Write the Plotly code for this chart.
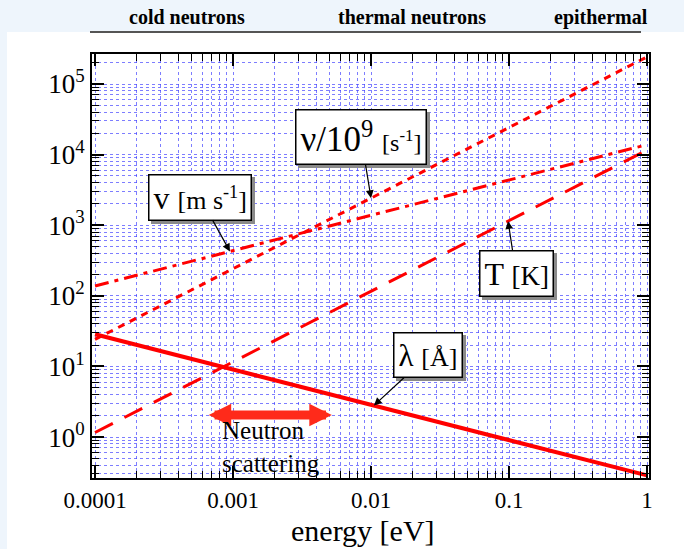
import plotly.graph_objects as go
import math

# ---------------- data ----------------
energy_eV = [0.0001, 1.0]
wavelength_A = [28.6, 0.286]          # lambda [Å]
velocity_ms = [138.0, 13830.0]        # v [m s^-1]
frequency_GHz = [24.2, 241800.0]      # nu/10^9 [s^-1]
temperature_K = [1.16, 11600.0]       # T [K]

x_tickvals = [0.0001, 0.001, 0.01, 0.1, 1]
x_ticktext = ["0.0001", "0.001", "0.01", "0.1", "1"]
y_tickvals = [1, 10, 100, 1000, 10000, 100000]
y_ticktext = ["10<sup>0</sup>", "10<sup>1</sup>", "10<sup>2</sup>",
              "10<sup>3</sup>", "10<sup>4</sup>", "10<sup>5</sup>"]
region_labels = ["cold neutrons", "thermal neutrons", "epithermal"]

SERIF = "Liberation Serif"
RED = "#ff0000"
GRID = "rgba(70,70,255,0.7)"

fig = go.Figure()
fig.add_trace(go.Scatter(x=energy_eV, y=wavelength_A, mode="lines",
                         line=dict(color=RED, width=4), name="lambda"))
fig.add_trace(go.Scatter(x=energy_eV, y=velocity_ms, mode="lines",
                         line=dict(color=RED, width=3, dash="14px,6px,4px,6px"), name="v"))
fig.add_trace(go.Scatter(x=energy_eV, y=frequency_GHz, mode="lines",
                         line=dict(color=RED, width=3, dash="7px,6px"), name="nu"))
fig.add_trace(go.Scatter(x=energy_eV, y=temperature_K, mode="lines",
                         line=dict(color=RED, width=3, dash="20px,13px"), name="T"))

def minor_vals(lo, hi):
    out = []
    for d in range(lo, hi + 1):
        for k in range(2, 10):
            out.append(k * 10.0 ** d)
    return out

axis_common = dict(type="log", showline=True, linecolor="black", linewidth=2,
                   mirror="ticks", ticks="inside", ticklen=12, tickwidth=1.5,
                   tickcolor="black", showgrid=True, gridcolor=GRID, griddash="dot",
                   gridwidth=1, zeroline=False)

fig.update_xaxes(**axis_common, range=[-4.022, 0.0145],
                 tickmode="array", tickvals=x_tickvals, ticktext=x_ticktext,
                 tickfont=dict(family=SERIF, size=23, color="black"),
                 minor=dict(tickmode="array", tickvals=minor_vals(-4, 0), ticks="inside",
                            ticklen=7, tickcolor="black", tickwidth=1.2,
                            showgrid=True, gridcolor=GRID, griddash="dot", gridwidth=1))
fig.update_yaxes(**axis_common, range=[-0.58, 5.425],
                 tickmode="array", tickvals=y_tickvals, ticktext=y_ticktext,
                 tickfont=dict(family=SERIF, size=27, color="black"),
                 minor=dict(tickmode="array", tickvals=minor_vals(-1, 5), ticks="inside",
                            ticklen=7, tickcolor="black", tickwidth=1.2,
                            showgrid=True, gridcolor=GRID, griddash="dot", gridwidth=1))

annotations = []

def boxed(text, xe, ye, ax, ay, size):
    common = dict(x=math.log10(xe), y=math.log10(ye), xref="x", yref="y",
                  ax=ax, ay=ay, text=text, showarrow=True,
                  borderpad=4, borderwidth=1.5)
    annotations.append(dict(**common, bgcolor="#8a8a8a", bordercolor="#8a8a8a",
                            arrowcolor="rgba(0,0,0,0)", xshift=3, yshift=-3,
                            font=dict(family=SERIF, size=size, color="#8a8a8a")))
    annotations.append(dict(**common, bgcolor="white", bordercolor="black",
                            arrowcolor="black", arrowhead=2, arrowsize=1.3,
                            arrowwidth=1.2, standoff=0,
                            font=dict(family=SERIF, size=size, color="black")))

boxed("ν/10<sup>9</sup> <span style='font-size:24px'>[s<sup>-1</sup>]</span>",
      0.01, 2418, -10, -61, 35)
boxed("v <span style='font-size:26px'>[m s<sup>-1</sup>]</span>",
      0.00095, 426, -30, -54, 32)
boxed("T <span style='font-size:27px'>[K]</span>",
      0.0984, 1142, 8, 52, 32)
boxed("λ <span style='font-size:26px'>[Å]</span>",
      0.0105, 2.8, 54, -50, 31)

# neutron scattering double arrow
annotations.append(dict(x=math.log10(0.0052), y=math.log10(2.05), xref="x", yref="y",
                        ax=math.log10(0.00065), ay=math.log10(2.05), axref="x", ayref="y",
                        text="", showarrow=True, arrowside="end+start", arrowhead=2,
                        arrowsize=0.5, arrowwidth=9, arrowcolor="#ff2a1a", standoff=0,
                        startstandoff=0))
annotations.append(dict(x=math.log10(0.0008), y=-0.14, xref="x", yref="y",
                        text="Neutron<br>scattering", showarrow=False, align="left",
                        xanchor="left", yanchor="middle",
                        font=dict(family=SERIF, size=25, color="black")))

# x axis title
annotations.append(dict(x=(363 - 92) / 557, y=(478 - 530) / 424, xref="paper", yref="paper",
                        text="energy [eV]", showarrow=False, xanchor="center", yanchor="middle",
                        font=dict(family=SERIF, size=30, color="black")))

# region labels above the plot
for lab, px in zip(region_labels, [187, 412, 601]):
    annotations.append(dict(x=(px - 92) / 557, y=(478 - 17) / 424, xref="paper", yref="paper",
                            text="<b>" + lab + "</b>", showarrow=False,
                            xanchor="center", yanchor="middle",
                            font=dict(family=SERIF, size=20, color="black")))

shapes = [
    dict(type="rect", xref="paper", yref="paper", x0=(7 - 92) / 557, x1=(700 - 92) / 557,
         y0=(478 - 560) / 424, y1=(478 - 32) / 424, fillcolor="white", line_width=0,
         layer="below"),
    dict(type="line", xref="paper", yref="paper", x0=(90 - 92) / 557, x1=(641 - 92) / 557,
         y0=(478 - 32) / 424, y1=(478 - 32) / 424, line=dict(color="#555555", width=2)),
]

fig.update_layout(width=684, height=549, showlegend=False,
                  margin=dict(l=92, r=35, t=54, b=71, autoexpand=False),
                  paper_bgcolor="#eef5fc", plot_bgcolor="white",
                  annotations=annotations, shapes=shapes)

fig.write_html("out.html", config={"displayModeBar": False},
               post_script="document.body.style.margin='0px';document.body.style.overflow='hidden';")
